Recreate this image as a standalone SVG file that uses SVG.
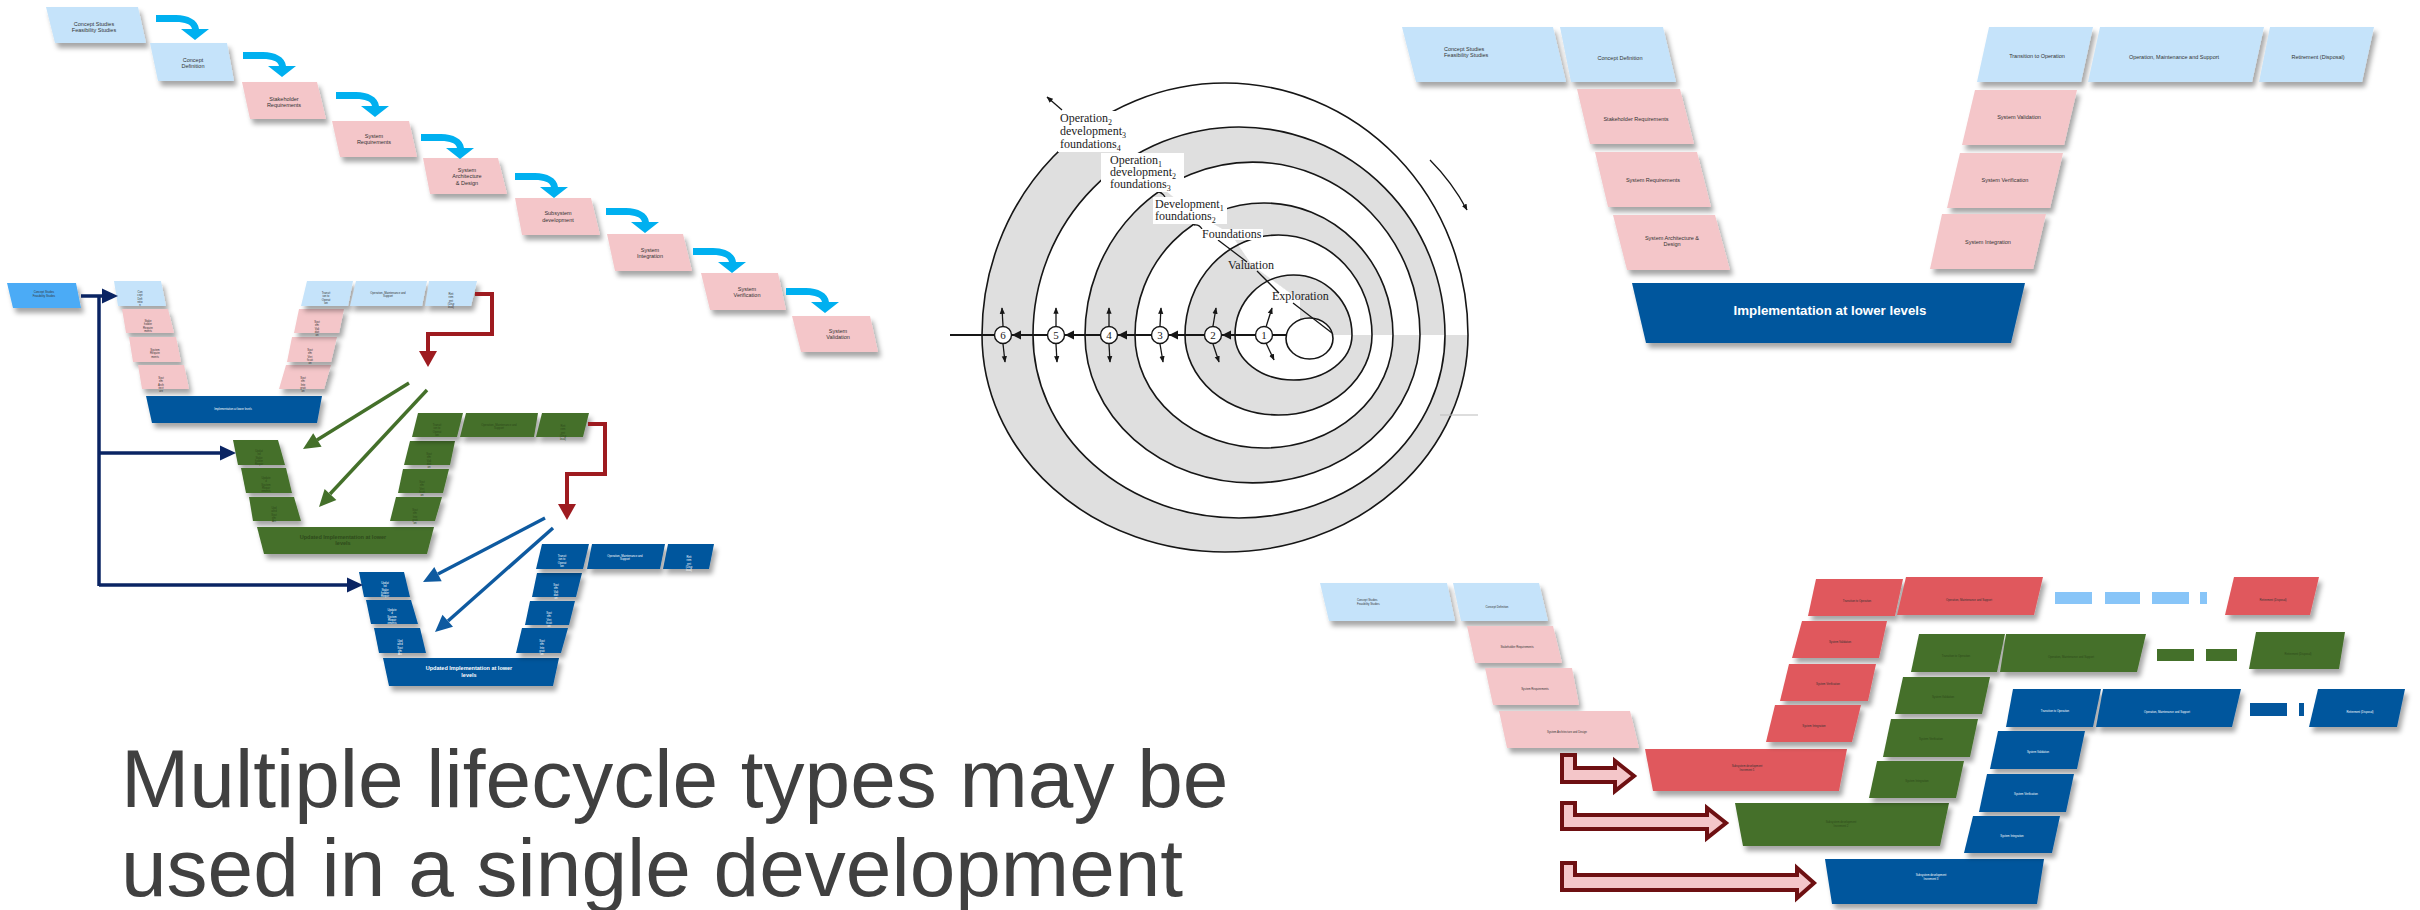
<svg xmlns="http://www.w3.org/2000/svg" width="2420" height="910" viewBox="0 0 2420 910">
<style>
.lb{fill:#C5E3FA}.pk{fill:#F4C6C9}.db{fill:#03569D}.gr{fill:#44702A}.rd{fill:#E0585D}.bb{fill:#4BABF6}
.sh{filter:url(#ds)}
.t{font-family:"Liberation Sans",Arial,sans-serif;font-size:5.5px;fill:#333;text-anchor:middle}
.tl{text-anchor:start}
.tt{font-size:2.8px}
.big{font-size:13.3px}
.w{fill:#fff}
.dg{fill:#2E4A1B}
.b{font-weight:bold}
.sp{font-family:"Liberation Serif","Times New Roman",serif;font-size:12px;fill:#222}
.num{font-size:11px;text-anchor:middle}
.sub{font-size:8px}
.ln{fill:none;stroke:#161616;stroke-width:1.3}
.g{fill:#DFDFDF}.wh{fill:#fff}
.rl{fill:none;stroke:#161616;stroke-width:1.6}
</style>
<defs>
<filter id="ds" x="-15%" y="-15%" width="140%" height="160%"><feDropShadow dx="3" dy="5" stdDeviation="2.5" flood-color="#000" flood-opacity="0.35"/></filter>
<path id="wfa" d="M0,0 H20 C32,0 42,5 43,14 L36,14 C35,9 29,7 20,7 H0 Z M25,14 H53 L39,25 Z" fill="#00B0F0"/>
<marker id="sa" viewBox="0 0 10 10" refX="9" refY="5" markerWidth="5" markerHeight="5" orient="auto"><path d="M0,1 L10,5 L0,9 Z" fill="#161616"/></marker>
<path id="r6" d="M982,335 A243,252 0 0 1 1468,335 A243,217 0 0 1 982,335 Z"/>
<path id="r5" d="M1033,335 A206,208 0 0 1 1445,335 A206,183 0 0 1 1033,335 Z"/>
<path id="r4" d="M1085,335 A167.5,173 0 0 1 1420,335 A167.5,148 0 0 1 1085,335 Z"/>
<path id="r3" d="M1135,335 A129,132 0 0 1 1393,335 A129,113 0 0 1 1135,335 Z"/>
<path id="r2" d="M1185,335 A93.5,100 0 0 1 1372,335 A93.5,80 0 0 1 1185,335 Z"/>
<path id="r1" d="M1235,335 A58.5,60 0 0 1 1352,335 A58.5,45 0 0 1 1235,335 Z"/>
<ellipse id="r0" cx="1309.5" cy="338.5" rx="23.5" ry="20.5"/>
<clipPath id="cq"><polygon points="1300,335 1300,300 1252,265 1231,234 1190,210 1142,172 1095,131 1040,70 1000,30 1500,30 1500,335"/></clipPath>
<clipPath id="cp"><polygon points="1300,335 1300,300 1252,265 1231,234 1190,210 1142,172 1095,131 1040,70 1000,30 930,30 930,600 1500,600 1500,335"/></clipPath>
</defs>
<rect width="2420" height="910" fill="#fff"/>

<!-- ============ WATERFALL ============ -->
<g id="wf1"><polygon class="lb sh" points="46,7 138,7 146,43 55,43"/><text class="t"><tspan x="94" y="26">Concept Studies</tspan><tspan x="94" y="32">Feasibility Studies</tspan></text></g>
<g id="wf2"><polygon class="lb sh" points="150,43 227,43 234,81 158,81"/><text class="t"><tspan x="193" y="62">Concept</tspan><tspan x="193" y="68">Definition</tspan></text></g>
<g id="wf3"><polygon class="pk sh" points="242,82 317,82 326,119 250,119"/><text class="t"><tspan x="284" y="101">Stakeholder</tspan><tspan x="284" y="107">Requirements</tspan></text></g>
<g id="wf4"><polygon class="pk sh" points="332,121 409,121 417,157 340,157"/><text class="t"><tspan x="374" y="138">System</tspan><tspan x="374" y="144">Requirements</tspan></text></g>
<g id="wf5"><polygon class="pk sh" points="423,158 498,158 507,194 430,194"/><text class="t"><tspan x="467" y="172">System</tspan><tspan x="467" y="178">Architecture</tspan><tspan x="467" y="185">&amp; Design</tspan></text></g>
<g id="wf6"><polygon class="pk sh" points="515,198 591,198 600,235 522,235"/><text class="t"><tspan x="558" y="215">Subsystem</tspan><tspan x="558" y="222">development</tspan></text></g>
<g id="wf7"><polygon class="pk sh" points="607,234 683,234 692,271 615,271"/><text class="t"><tspan x="650" y="252">System</tspan><tspan x="650" y="258">Integration</tspan></text></g>
<g id="wf8"><polygon class="pk sh" points="701,273 778,273 786,310 710,310"/><text class="t"><tspan x="747" y="291">System</tspan><tspan x="747" y="297">Verification</tspan></text></g>
<g id="wf9"><polygon class="pk sh" points="792,316 870,316 878,352 801,352"/><text class="t"><tspan x="838" y="333">System</tspan><tspan x="838" y="339">Validation</tspan></text></g>
<g id="wf-connectors">
<use href="#wfa" transform="translate(156,15)"/>
<use href="#wfa" transform="translate(243,52)"/>
<use href="#wfa" transform="translate(336,92)"/>
<use href="#wfa" transform="translate(421,134)"/>
<use href="#wfa" transform="translate(515,173)"/>
<use href="#wfa" transform="translate(606,208)"/>
<use href="#wfa" transform="translate(693,248)"/>
<use href="#wfa" transform="translate(786,288)"/>
</g>

<!-- ============ ITERATIVE V's (left) ============ -->
<g id="iv-start"><polygon class="bb sh" points="7,283 76,283 81,308 13,308"/><text class="t tt"><tspan x="44" y="293">Concept Studies</tspan><tspan x="44" y="296.5">Feasibility Studies</tspan></text></g>
<g id="iv1-c"><polygon class="lb sh" points="114,281 161,281 166,306 118,306"/><text class="t tt"><tspan x="140" y="293">Con</tspan><tspan x="140" y="296.3">cept</tspan><tspan x="140" y="299.6">Defi</tspan><tspan x="140" y="302.9">nitio</tspan><tspan x="140" y="306.2">n</tspan></text></g>
<g id="iv1-p1"><polygon class="pk sh" points="122,309 168,309 174,333 126,333"/><text class="t tt"><tspan x="148" y="322">Stake</tspan><tspan x="148" y="325.3">holder</tspan><tspan x="148" y="328.6">Require</tspan><tspan x="148" y="331.9">ments</tspan></text></g>
<g id="iv1-p2"><polygon class="pk sh" points="129,337 176,337 181,362 133,362"/><text class="t tt"><tspan x="155" y="351">System</tspan><tspan x="155" y="354.3">Require</tspan><tspan x="155" y="357.6">ments</tspan></text></g>
<g id="iv1-p3"><polygon class="pk sh" points="138,365 184,365 189,389 142,389"/><text class="t tt"><tspan x="161" y="379">Syst</tspan><tspan x="161" y="382.3">em</tspan><tspan x="161" y="385.6">Arch</tspan><tspan x="161" y="388.9">itect</tspan><tspan x="161" y="392.2">ure</tspan></text></g>
<g id="iv1-impl"><polygon class="db sh" points="146,396 322,396 317,423 152,423"/><text class="t tt w" x="233" y="410">Implementation  at lower levels</text></g>
<g id="iv1-r3"><polygon class="pk sh" points="286,365 331,365 324,389 279,389"/><text class="t tt"><tspan x="303" y="379">Syst</tspan><tspan x="303" y="382.3">em</tspan><tspan x="303" y="385.6">Inte</tspan><tspan x="303" y="388.9">grati</tspan><tspan x="303" y="392.2">on</tspan></text></g>
<g id="iv1-r2"><polygon class="pk sh" points="292,337 337,337 331,362 287,362"/><text class="t tt"><tspan x="310" y="351">Syst</tspan><tspan x="310" y="354.3">em</tspan><tspan x="310" y="357.6">Veri</tspan><tspan x="310" y="360.9">ficati</tspan><tspan x="310" y="364.2">on</tspan></text></g>
<g id="iv1-r1"><polygon class="pk sh" points="299,309 344,309 339,333 294,333"/><text class="t tt"><tspan x="317" y="323">Syst</tspan><tspan x="317" y="326.3">em</tspan><tspan x="317" y="329.6">Vali</tspan><tspan x="317" y="332.9">dati</tspan><tspan x="317" y="336.2">on</tspan></text></g>
<g id="iv1-t1"><polygon class="lb sh" points="307,281 353,281 348,306 301,306"/><text class="t tt"><tspan x="326" y="294">Transit</tspan><tspan x="326" y="297.3">ion to</tspan><tspan x="326" y="300.6">Operat</tspan><tspan x="326" y="303.9">ion</tspan></text></g>
<g id="iv1-t2"><polygon class="lb sh" points="356,281 427,281 422,306 350,306"/><text class="t tt"><tspan x="388" y="294">Operation,  Maintenance  and</tspan><tspan x="388" y="297.3">Support</tspan></text></g>
<g id="iv1-t3"><polygon class="lb sh" points="429,281 477,281 471,306 425,306"/><text class="t tt"><tspan x="451" y="295">Reti</tspan><tspan x="451" y="298.3">rem</tspan><tspan x="451" y="301.6">ent</tspan><tspan x="451" y="304.9">(Disp</tspan><tspan x="451" y="308.2">osal)</tspan></text></g>

<g id="iv2-g1"><polygon class="gr sh" points="233,440 278,440 285,465 238,465"/><text class="t tt dg"><tspan x="259" y="452">Updat</tspan><tspan x="259" y="455.3">ed</tspan><tspan x="259" y="458.6">Stake</tspan><tspan x="259" y="461.9">holder</tspan><tspan x="259" y="465.2">Requir</tspan></text></g>
<g id="iv2-g2"><polygon class="gr sh" points="241,468 286,468 292,493 246,493"/><text class="t tt dg"><tspan x="266" y="479">Update</tspan><tspan x="266" y="482.3">d</tspan><tspan x="266" y="485.6">System</tspan><tspan x="266" y="488.9">Requir</tspan><tspan x="266" y="492.2">ements</tspan></text></g>
<g id="iv2-g3"><polygon class="gr sh" points="249,497 294,497 301,521 253,521"/><text class="t tt dg"><tspan x="274" y="509">Upd</tspan><tspan x="274" y="512.3">ated</tspan><tspan x="274" y="515.6">Syst</tspan><tspan x="274" y="518.9">em</tspan><tspan x="274" y="522.2">Arc</tspan></text></g>
<g id="iv2-impl"><polygon class="gr sh" points="257,527 434,527 427,554 264,554"/><text class="t b dg"><tspan x="343" y="539">Updated  Implementation  at lower</tspan><tspan x="343" y="545">levels</tspan></text></g>
<g id="iv2-r1"><polygon class="gr sh" points="410,441 455,441 450,465 404,465"/><text class="t tt dg"><tspan x="429" y="455">Syst</tspan><tspan x="429" y="458.3">em</tspan><tspan x="429" y="461.6">Vali</tspan><tspan x="429" y="464.9">dati</tspan><tspan x="429" y="468.2">on</tspan></text></g>
<g id="iv2-r2"><polygon class="gr sh" points="403,469 449,469 443,493 398,493"/><text class="t tt dg"><tspan x="422" y="483">Syst</tspan><tspan x="422" y="486.3">em</tspan><tspan x="422" y="489.6">Veri</tspan><tspan x="422" y="492.9">ficati</tspan><tspan x="422" y="496.2">on</tspan></text></g>
<g id="iv2-r3"><polygon class="gr sh" points="396,497 442,497 435,521 390,521"/><text class="t tt dg"><tspan x="415" y="511">Syst</tspan><tspan x="415" y="514.3">em</tspan><tspan x="415" y="517.6">Inte</tspan><tspan x="415" y="520.9">grati</tspan><tspan x="415" y="524.2">on</tspan></text></g>
<g id="iv2-t1"><polygon class="gr sh" points="418,413 463,413 457,437 412,437"/><text class="t tt dg"><tspan x="437" y="426">Transit</tspan><tspan x="437" y="429.3">ion to</tspan><tspan x="437" y="432.6">Operat</tspan><tspan x="437" y="435.9">ion</tspan></text></g>
<g id="iv2-t2"><polygon class="gr sh" points="466,413 538,413 534,437 460,437"/><text class="t tt dg"><tspan x="499" y="426">Operation,  Maintenance  and</tspan><tspan x="499" y="429.3">Support</tspan></text></g>
<g id="iv2-t3"><polygon class="gr sh" points="542,413 589,413 583,437 536,437"/><text class="t tt dg"><tspan x="563" y="427">Reti</tspan><tspan x="563" y="430.3">rem</tspan><tspan x="563" y="433.6">ent</tspan><tspan x="563" y="436.9">(Disp</tspan><tspan x="563" y="440.2">osal)</tspan></text></g>

<g id="iv3-b1"><polygon class="db sh" points="359,572 404,572 410,597 364,597"/><text class="t tt w"><tspan x="385" y="584">Updat</tspan><tspan x="385" y="587.3">ed</tspan><tspan x="385" y="590.6">Stake</tspan><tspan x="385" y="593.9">holder</tspan><tspan x="385" y="597.2">Requir</tspan></text></g>
<g id="iv3-b2"><polygon class="db sh" points="366,600 411,600 418,624 371,624"/><text class="t tt w"><tspan x="392" y="611">Update</tspan><tspan x="392" y="614.3">d</tspan><tspan x="392" y="617.6">System</tspan><tspan x="392" y="620.9">Requir</tspan><tspan x="392" y="624.2">ements</tspan></text></g>
<g id="iv3-b3"><polygon class="db sh" points="374,628 420,628 426,653 379,653"/><text class="t tt w"><tspan x="400" y="642">Upd</tspan><tspan x="400" y="645.3">ated</tspan><tspan x="400" y="648.6">Syst</tspan><tspan x="400" y="651.9">em</tspan><tspan x="400" y="655.2">Arc</tspan></text></g>
<g id="iv3-impl"><polygon class="db sh" points="383,658 559,658 553,686 389,686"/><text class="t b w"><tspan x="469" y="670">Updated  Implementation  at lower</tspan><tspan x="469" y="677">levels</tspan></text></g>
<g id="iv3-r1"><polygon class="db sh" points="537,573 582,573 576,597 532,597"/><text class="t tt w"><tspan x="556" y="586">Syst</tspan><tspan x="556" y="589.3">em</tspan><tspan x="556" y="592.6">Vali</tspan><tspan x="556" y="595.9">dati</tspan><tspan x="556" y="599.2">on</tspan></text></g>
<g id="iv3-r2"><polygon class="db sh" points="530,601 575,601 569,625 525,625"/><text class="t tt w"><tspan x="549" y="614">Syst</tspan><tspan x="549" y="617.3">em</tspan><tspan x="549" y="620.6">Veri</tspan><tspan x="549" y="623.9">ficati</tspan><tspan x="549" y="627.2">on</tspan></text></g>
<g id="iv3-r3"><polygon class="db sh" points="522,628 568,628 561,653 516,653"/><text class="t tt w"><tspan x="542" y="642">Syst</tspan><tspan x="542" y="645.3">em</tspan><tspan x="542" y="648.6">Inte</tspan><tspan x="542" y="651.9">grati</tspan><tspan x="542" y="655.2">on</tspan></text></g>
<g id="iv3-t1"><polygon class="db sh" points="542,544 589,544 583,569 536,569"/><text class="t tt w"><tspan x="562" y="557">Transit</tspan><tspan x="562" y="560.3">ion to</tspan><tspan x="562" y="563.6">Operat</tspan><tspan x="562" y="566.9">ion</tspan></text></g>
<g id="iv3-t2"><polygon class="db sh" points="592,544 665,544 660,569 587,569"/><text class="t tt w"><tspan x="625" y="557">Operation,  Maintenance  and</tspan><tspan x="625" y="560.3">Support</tspan></text></g>
<g id="iv3-t3"><polygon class="db sh" points="668,544 714,544 709,569 663,569"/><text class="t tt w"><tspan x="689" y="558">Reti</tspan><tspan x="689" y="561.3">rem</tspan><tspan x="689" y="564.6">ent</tspan><tspan x="689" y="567.9">(Disp</tspan><tspan x="689" y="571.2">osal)</tspan></text></g>

<g id="iv-connectors">
<g fill="none" stroke="#0A2463" stroke-width="3.5">
<path d="M81,296 H105"/><path d="M99,296 V586"/><path d="M99,453 H223"/><path d="M99,585 H350"/>
</g>
<g fill="#0A2463">
<polygon points="102,288.5 118,296 102,303.5"/><polygon points="220,445.5 236,453 220,460.5"/><polygon points="347,577.5 363,585 347,592.5"/>
</g>
<g fill="none" stroke="#9E1B20" stroke-width="4">
<polyline points="475,294 492,294 492,334 428,334 428,353"/>
<polyline points="588,424 605,424 605,474 567,474 567,506"/>
</g>
<g fill="#9E1B20"><polygon points="419,351 437,351 428,367"/><polygon points="558,504 576,504 567,520"/></g>
<g stroke="#44702A" stroke-width="3.4"><line x1="409" y1="383" x2="317" y2="440"/><line x1="427" y1="390" x2="330" y2="494"/></g>
<g fill="#44702A"><polygon points="303,449 313.2,433.2 321.6,446.8"/><polygon points="319,507 336.4,499.9 324.6,489.1"/></g>
<g stroke="#0E5AA0" stroke-width="3.4"><line x1="545" y1="518" x2="438" y2="574"/><line x1="553" y1="528" x2="448" y2="621"/></g>
<g fill="#0E5AA0"><polygon points="423,582 441.7,581.2 434.3,567"/><polygon points="435,632 453,626.8 442.5,614.8"/></g>
</g>

<!-- ============ SPIRAL ============ -->
<g id="spiral">
<g clip-path="url(#cp)">
<use href="#r6" class="g"/><use href="#r5" class="wh"/><use href="#r4" class="g"/><use href="#r3" class="wh"/><use href="#r2" class="g"/><use href="#r1" class="wh"/>
</g>
<g clip-path="url(#cq)">
<use href="#r5" class="g"/><use href="#r4" class="wh"/><use href="#r3" class="g"/><use href="#r2" class="wh"/><use href="#r1" class="g"/>
</g>
<use href="#r0" class="wh"/>
<g class="rl">
<use href="#r6"/><use href="#r5"/><use href="#r4"/><use href="#r3"/><use href="#r2"/><use href="#r1"/><use href="#r0"/>
</g>
<line x1="950" y1="335" x2="1287" y2="335" stroke="#161616" stroke-width="2"/>
<g fill="#161616">
<polygon points="1012,335 1021,330.5 1021,339.5"/><polygon points="1065,335 1074,330.5 1074,339.5"/><polygon points="1118,335 1127,330.5 1127,339.5"/><polygon points="1169,335 1178,330.5 1178,339.5"/><polygon points="1222,335 1231,330.5 1231,339.5"/>
</g>
<g class="ln" marker-end="url(#sa)">
<path d="M1003,326 L1002,308"/><path d="M1003,344 L1005,362"/>
<path d="M1056,326 L1056,308"/><path d="M1056,344 L1057,362"/>
<path d="M1109,326 L1109,308"/><path d="M1109,344 L1110,362"/>
<path d="M1160,326 L1161,308"/><path d="M1160,344 L1163,362"/>
<path d="M1213,326 L1216,308"/><path d="M1213,344 L1219,362"/>
<path d="M1266,327 L1272,308"/><path d="M1266,343 L1274,360"/>
<path d="M1062,110 L1047,97"/>
<path d="M1430,160 Q1452,182 1467,210"/>
</g>
<g fill="#fff" stroke="#161616" stroke-width="1.4">
<circle cx="1003" cy="335" r="8.5"/><circle cx="1056" cy="335" r="8.5"/><circle cx="1109" cy="335" r="8.5"/><circle cx="1160" cy="335" r="8.5"/><circle cx="1213" cy="335" r="8.5"/><circle cx="1264" cy="335" r="8.5"/>
</g>
<g class="sp num">
<text x="1003" y="339">6</text><text x="1056" y="339">5</text><text x="1109" y="339">4</text><text x="1160" y="339">3</text><text x="1213" y="339">2</text><text x="1264" y="339">1</text>
</g>
<g class="ln">
<path d="M1218,240 L1247,262"/><path d="M1257,271 L1279,293"/><path d="M1293,303 L1332,333"/>
<path d="M1156,191 Q1162,192 1165,197"/><path d="M1194,225 Q1199,224 1202,229"/>
</g>
<line x1="1440" y1="415" x2="1478" y2="415" stroke="#bbb" stroke-width="1"/>
<g fill="#fff">
<rect x="1058" y="111" width="76" height="41"/><rect x="1101" y="153" width="83" height="39"/><rect x="1153" y="197" width="74" height="27"/><rect x="1199" y="229" width="64" height="11"/>
</g>
<text class="sp"><tspan x="1060" y="122">Operation<tspan class="sub" dy="3">2</tspan></tspan><tspan x="1060" y="135">development<tspan class="sub" dy="3">3</tspan></tspan><tspan x="1060" y="148">foundations<tspan class="sub" dy="3">4</tspan></tspan></text>
<text class="sp"><tspan x="1110" y="164">Operation<tspan class="sub" dy="3">1</tspan></tspan><tspan x="1110" y="176">development<tspan class="sub" dy="3">2</tspan></tspan><tspan x="1110" y="188">foundations<tspan class="sub" dy="3">3</tspan></tspan></text>
<text class="sp"><tspan x="1155" y="208">Development<tspan class="sub" dy="3">1</tspan></tspan><tspan x="1155" y="220">foundations<tspan class="sub" dy="3">2</tspan></tspan></text>
<text class="sp" x="1202" y="238">Foundations</text>
<text class="sp" x="1228" y="269">Valuation</text>
<text class="sp" x="1272" y="300">Exploration</text>
</g>

<!-- ============ V-MODEL (top right) ============ -->
<g id="v-c1"><polygon class="lb sh" points="1402,27 1553,27 1566,82 1416,82"/><text class="t tl"><tspan x="1444" y="51">Concept Studies</tspan><tspan x="1444" y="57">Feasibility Studies</tspan></text></g>
<g id="v-c2"><polygon class="lb sh" points="1560,27 1663,27 1676,82 1571,82"/><text class="t" x="1620" y="60">Concept Definition</text></g>
<g id="v-s1"><polygon class="pk sh" points="1577,89 1680,89 1694,144 1590,144"/><text class="t" x="1636" y="121">Stakeholder  Requirements</text></g>
<g id="v-s2"><polygon class="pk sh" points="1595,152 1697,152 1711,207 1608,207"/><text class="t" x="1653" y="182">System  Requirements</text></g>
<g id="v-s3"><polygon class="pk sh" points="1613,215 1715,215 1730,270 1627,270"/><text class="t"><tspan x="1672" y="240">System  Architecture  &amp;</tspan><tspan x="1672" y="246">Design</tspan></text></g>
<g id="v-impl"><polygon class="db sh" points="1632,283 2025,283 2011,343 1646,343"/><text class="t b w big" x="1830" y="315">Implementation at lower levels</text></g>
<g id="v-tr1"><polygon class="lb sh" points="1989,27 2093,27 2081,82 1977,82"/><text class="t" x="2037" y="58">Transition to Operation</text></g>
<g id="v-tr2"><polygon class="lb sh" points="2100,27 2264,27 2252,82 2088,82"/><text class="t" x="2174" y="59">Operation,  Maintenance  and Support</text></g>
<g id="v-tr3"><polygon class="lb sh" points="2270,27 2374,27 2362,82 2259,82"/><text class="t" x="2318" y="59">Retirement  (Disposal)</text></g>
<g id="v-v1"><polygon class="pk sh" points="1975,90 2077,90 2064,145 1962,145"/><text class="t" x="2019" y="119">System  Validation</text></g>
<g id="v-v2"><polygon class="pk sh" points="1960,153 2063,153 2050,208 1947,208"/><text class="t" x="2005" y="182">System  Verification</text></g>
<g id="v-v3"><polygon class="pk sh" points="1942,214 2046,214 2033,269 1930,269"/><text class="t" x="1988" y="244">System  Integration</text></g>

<!-- ============ INCREMENTAL (bottom right) ============ -->
<g id="inc-c1"><polygon class="lb sh" points="1320,583 1447,583 1455,621 1329,621"/><text class="t tt tl"><tspan x="1357" y="601">Concept  Studies</tspan><tspan x="1357" y="604.5">Feasibility  Studies</tspan></text></g>
<g id="inc-c2"><polygon class="lb sh" points="1453,583 1539,583 1548,621 1461,621"/><text class="t tt" x="1497" y="608">Concept  Definition</text></g>
<g id="inc-p1"><polygon class="pk sh" points="1467,626 1553,626 1562,663 1475,663"/><text class="t tt" x="1517" y="648">Stakeholder  Requirements</text></g>
<g id="inc-p2"><polygon class="pk sh" points="1485,668 1572,668 1579,705 1493,705"/><text class="t tt" x="1535" y="690">System Requirements</text></g>
<g id="inc-p3"><polygon class="pk sh" points="1499,711 1630,711 1639,748 1507,748"/><text class="t tt" x="1567" y="733">System Architecture  and Design</text></g>
<g id="inc-r-impl"><polygon class="rd sh" points="1645,749 1847,749 1839,791 1653,791"/><text class="t tt"><tspan x="1747" y="767">Subsystem  development</tspan><tspan x="1747" y="770.5">Increment 1</tspan></text></g>
<g id="inc-r-t1"><polygon class="rd sh" points="1816,579 1903,579 1895,616 1808,616"/><text class="t tt" x="1857" y="602">Transition  to Operation</text></g>
<g id="inc-r-t2"><polygon class="rd sh" points="1906,577 2043,577 2034,615 1897,615"/><text class="t tt" x="1969" y="601">Operation,  Maintenance  and Support</text></g>
<g id="inc-r-t3"><polygon class="rd sh" points="2234,577 2319,577 2310,615 2225,615"/><text class="t tt" x="2273" y="601">Retirement (Disposal)</text></g>
<g id="inc-r-1"><polygon class="rd sh" points="1802,621 1887,621 1879,658 1792,658"/><text class="t tt" x="1840" y="643">System Validation</text></g>
<g id="inc-r-2"><polygon class="rd sh" points="1789,664 1876,664 1868,701 1780,701"/><text class="t tt" x="1828" y="685">System Verification</text></g>
<g id="inc-r-3"><polygon class="rd sh" points="1775,705 1861,705 1852,742 1766,742"/><text class="t tt" x="1814" y="727">System Integration</text></g>
<g id="inc-g-impl"><polygon class="gr sh" points="1735,803 1949,803 1940,846 1743,846"/><text class="t tt dg"><tspan x="1841" y="823">Subsystem  development</tspan><tspan x="1841" y="826.5">Increment 2</tspan></text></g>
<g id="inc-g-t1"><polygon class="gr sh" points="1919,634 2005,634 1997,672 1911,672"/><text class="t tt dg" x="1956" y="657">Transition  to Operation</text></g>
<g id="inc-g-t2"><polygon class="gr sh" points="2006,634 2146,634 2137,672 2000,672"/><text class="t tt dg" x="2071" y="658">Operation,  Maintenance  and Support</text></g>
<g id="inc-g-t3"><polygon class="gr sh" points="2256,632 2345,632 2339,669 2249,669"/><text class="t tt dg" x="2298" y="655">Retirement (Disposal)</text></g>
<g id="inc-g-1"><polygon class="gr sh" points="1903,677 1990,677 1982,714 1895,714"/><text class="t tt dg" x="1943" y="698">System Validation</text></g>
<g id="inc-g-2"><polygon class="gr sh" points="1891,719 1978,719 1970,757 1883,757"/><text class="t tt dg" x="1931" y="740">System Verification</text></g>
<g id="inc-g-3"><polygon class="gr sh" points="1877,761 1964,761 1956,798 1869,798"/><text class="t tt dg" x="1917" y="782">System Integration</text></g>
<g id="inc-b-impl"><polygon class="db sh" points="1825,859 2044,859 2037,904 1832,904"/><text class="t tt w"><tspan x="1931" y="876">Subsystem  development</tspan><tspan x="1931" y="879.5">Increment 3</tspan></text></g>
<g id="inc-b-t1"><polygon class="db sh" points="2013,689 2101,689 2093,727 2006,727"/><text class="t tt w" x="2055" y="712">Transition  to Operation</text></g>
<g id="inc-b-t2"><polygon class="db sh" points="2103,689 2241,689 2232,727 2096,727"/><text class="t tt w" x="2167" y="713">Operation,  Maintenance  and Support</text></g>
<g id="inc-b-t3"><polygon class="db sh" points="2318,689 2405,689 2397,727 2309,727"/><text class="t tt w" x="2360" y="713">Retirement (Disposal)</text></g>
<g id="inc-b-1"><polygon class="db sh" points="1998,731 2085,731 2077,769 1990,769"/><text class="t tt w" x="2038" y="753">System Validation</text></g>
<g id="inc-b-2"><polygon class="db sh" points="1987,774 2074,774 2066,812 1979,812"/><text class="t tt w" x="2026" y="795">System Verification</text></g>
<g id="inc-b-3"><polygon class="db sh" points="1973,816 2060,816 2052,853 1964,853"/><text class="t tt w" x="2012" y="837">System Integration</text></g>
<g id="inc-connectors">
<g fill="#88C5F8"><rect x="2055" y="592" width="37" height="12"/><rect x="2105" y="592" width="35" height="12"/><rect x="2152" y="592" width="37" height="12"/><rect x="2200" y="592" width="7" height="12"/></g>
<g fill="#44702A"><rect x="2157" y="649" width="37" height="12"/><rect x="2206" y="649" width="31" height="12"/></g>
<g fill="#03569D"><rect x="2250" y="703" width="37" height="13"/><rect x="2299" y="703" width="5" height="13"/></g>
<g fill="#F4C6C9" stroke="#6E1012" stroke-width="4" stroke-linejoin="miter">
<polygon points="1562,755 1575,755 1575,768 1615,768 1615,761 1634,776 1615,791 1615,782 1562,782"/>
<polygon points="1562,803 1575,803 1575,815 1707,815 1707,808 1726,823 1707,838 1707,829 1562,829"/>
<polygon points="1562,863 1575,863 1575,875 1797,875 1797,868 1814,883 1797,898 1797,890 1562,890"/>
</g>
</g>

<!-- ============ TITLE ============ -->
<g id="title" font-family="'Liberation Sans',Arial,sans-serif" font-size="82" fill="#404040">
<text x="121" y="807">Multiple lifecycle types may be</text>
<text x="121" y="896">used in a single development</text>
</g>
</svg>
